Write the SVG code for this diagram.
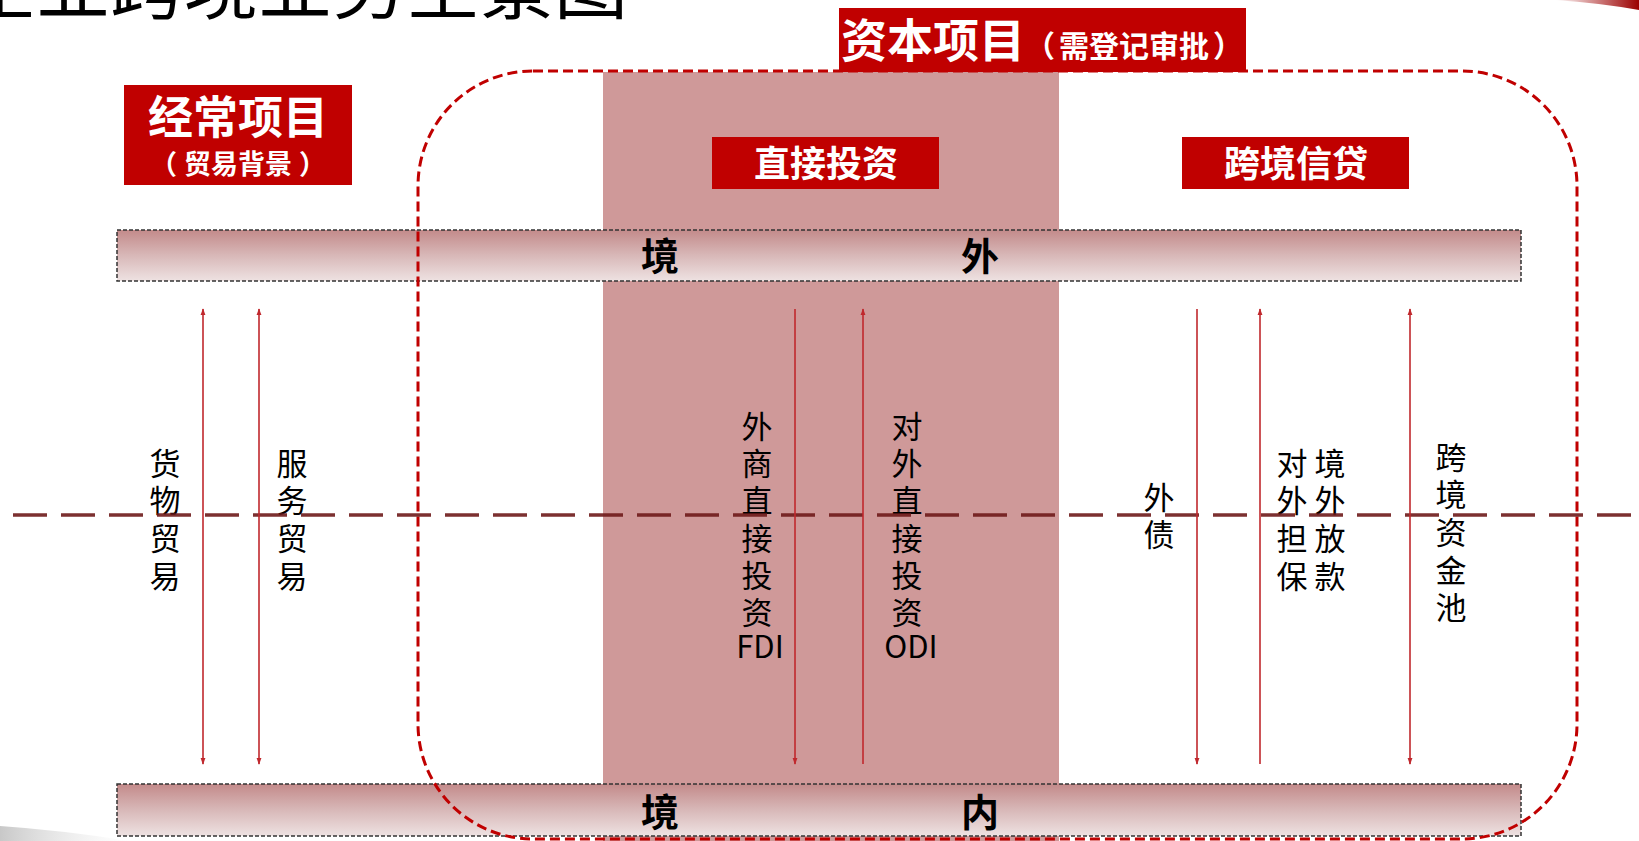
<svg xmlns="http://www.w3.org/2000/svg" width="1639" height="841" viewBox="0 0 1639 841">
<defs>
<style>
.cjk{font-family:"Noto Sans CJK SC","Noto Sans",sans-serif}
.hdr{font-family:"Noto Sans CJK SC","Noto Sans",sans-serif;font-weight:bold;fill:#fff;text-anchor:middle}
.lbl{font-family:"Noto Sans CJK SC","Noto Sans",sans-serif;font-size:31px;fill:#000;text-anchor:middle}
.bar{fill:url(#barGrad);stroke:#333;stroke-width:1.5;stroke-dasharray:4 2}
.bartxt{font-family:"Noto Sans CJK SC","Noto Sans",sans-serif;font-weight:bold;font-size:38px;fill:#000;text-anchor:middle}
.redbox{fill:#C00000}
.arr{stroke:#C0282D;stroke-width:1.6;fill:none}
</style>
<linearGradient id="barGrad" x1="0" y1="0" x2="0" y2="1">
<stop offset="0" stop-color="#C38A8A"/>
<stop offset="0.5" stop-color="#D8B8B8"/>
<stop offset="1" stop-color="#EEE2E2"/>
</linearGradient>
<linearGradient id="swoosh" x1="0" y1="0" x2="1" y2="0">
<stop offset="0" stop-color="#A00000" stop-opacity="0"/>
<stop offset="1" stop-color="#9A0000"/>
</linearGradient>
<linearGradient id="greySwoosh" x1="0" y1="0" x2="1" y2="0">
<stop offset="0" stop-color="#C8C8C8"/>
<stop offset="1" stop-color="#E8E8E8" stop-opacity="0"/>
</linearGradient>
<marker id="ah" markerUnits="userSpaceOnUse" markerWidth="7" markerHeight="8" refX="7" refY="4" orient="auto-start-reverse" viewBox="0 0 8 8">
<path d="M0,1.2 L8,4 L0,6.8 Z" fill="#C0282D"/>
</marker>
</defs>

<!-- decorations -->
<path d="M1555,0 Q1600,3 1639,10 L1639,0 Z" fill="url(#swoosh)"/>
<path d="M0,826 Q60,830 130,841 L0,841 Z" fill="url(#greySwoosh)"/>

<!-- title -->
<text id="title" class="cjk" x="-38" y="13" font-size="74" fill="#000">企业跨境业务全景图</text>

<!-- direct investment column -->
<rect id="fdi-column" x="603" y="72" width="456" height="769" fill="#CF9999"/>

<!-- bars -->
<g id="bar-outside">
<rect class="bar" x="117" y="230" width="1404" height="51"/>
<text class="bartxt" x="660" y="270">境</text>
<text class="bartxt" x="980" y="270">外</text>
</g>
<g id="bar-inside">
<rect class="bar" x="117" y="784" width="1404" height="52"/>
<text class="bartxt" x="660" y="826">境</text>
<text class="bartxt" x="980" y="826">内</text>
</g>

<!-- capital account dashed boundary -->
<rect id="capital-boundary" x="418" y="71" width="1159" height="768" rx="115" ry="115" fill="none" stroke="#C00000" stroke-width="3" stroke-dasharray="10 5"/>

<!-- headers -->
<g id="current-account">
<rect class="redbox" x="124" y="85" width="228" height="100"/>
<text class="hdr" x="238" y="134" font-size="45">经常项目</text>
<text class="hdr" x="238" y="174" font-size="27">（<tspan dx="7">贸易背景</tspan><tspan dx="7">）</tspan></text>
</g>
<g id="capital-account">
<rect class="redbox" x="839" y="8" width="407" height="64"/>
<text class="hdr" x="1042" y="57"><tspan font-size="46">资本项目</tspan><tspan font-size="30">（</tspan><tspan font-size="30" dx="4">需登记审批</tspan><tspan font-size="30" dx="4">）</tspan></text>
</g>
<g id="direct-investment">
<rect class="redbox" x="712" y="137" width="227" height="52"/>
<text class="hdr" x="826" y="177" font-size="36">直接投资</text>
</g>
<g id="cross-border-credit">
<rect class="redbox" x="1182" y="137" width="227" height="52"/>
<text class="hdr" x="1296" y="177" font-size="36">跨境信贷</text>
</g>

<!-- labels -->
<g id="goods-trade"><text class="lbl"><tspan x="165" y="475">货</tspan><tspan x="165" y="512">物</tspan><tspan x="165" y="550">贸</tspan><tspan x="165" y="588">易</tspan></text></g>
<g id="service-trade"><text class="lbl"><tspan x="292" y="475">服</tspan><tspan x="292" y="512">务</tspan><tspan x="292" y="550">贸</tspan><tspan x="292" y="588">易</tspan></text></g>
<g id="fdi"><text class="lbl"><tspan x="757" y="438">外</tspan><tspan x="757" y="475">商</tspan><tspan x="757" y="512">直</tspan><tspan x="757" y="550">接</tspan><tspan x="757" y="587">投</tspan><tspan x="757" y="624">资</tspan><tspan x="760" y="658">FDI</tspan></text></g>
<g id="odi"><text class="lbl"><tspan x="907" y="438">对</tspan><tspan x="907" y="475">外</tspan><tspan x="907" y="512">直</tspan><tspan x="907" y="550">接</tspan><tspan x="907" y="587">投</tspan><tspan x="907" y="624">资</tspan><tspan x="911" y="658">ODI</tspan></text></g>
<g id="foreign-debt"><text class="lbl"><tspan x="1159" y="509">外</tspan><tspan x="1159" y="546">债</tspan></text></g>
<g id="external-guarantee"><text class="lbl"><tspan x="1292" y="475">对</tspan><tspan x="1292" y="512">外</tspan><tspan x="1292" y="550">担</tspan><tspan x="1292" y="588">保</tspan></text></g>
<g id="overseas-lending"><text class="lbl"><tspan x="1330" y="475">境</tspan><tspan x="1330" y="512">外</tspan><tspan x="1330" y="550">放</tspan><tspan x="1330" y="588">款</tspan></text></g>
<g id="cash-pool"><text class="lbl"><tspan x="1451" y="469">跨</tspan><tspan x="1451" y="506">境</tspan><tspan x="1451" y="544">资</tspan><tspan x="1451" y="582">金</tspan><tspan x="1451" y="619">池</tspan></text></g>

<!-- border line between outside/inside -->
<line id="midline" x1="13" y1="515" x2="1639" y2="515" stroke="#6E1A1A" stroke-opacity="0.9" stroke-width="3.5" stroke-dasharray="34 14"/>

<!-- connectors -->
<g id="connectors">
<line class="arr" x1="203" y1="309" x2="203" y2="764" marker-start="url(#ah)" marker-end="url(#ah)"/>
<line class="arr" x1="259" y1="309" x2="259" y2="764" marker-start="url(#ah)" marker-end="url(#ah)"/>
<line class="arr" x1="795" y1="309" x2="795" y2="764" marker-end="url(#ah)"/>
<line class="arr" x1="863" y1="764" x2="863" y2="309" marker-end="url(#ah)"/>
<line class="arr" x1="1197" y1="309" x2="1197" y2="764" marker-end="url(#ah)"/>
<line class="arr" x1="1260" y1="764" x2="1260" y2="309" marker-end="url(#ah)"/>
<line class="arr" x1="1410" y1="309" x2="1410" y2="764" marker-start="url(#ah)" marker-end="url(#ah)"/>
</g>
</svg>
